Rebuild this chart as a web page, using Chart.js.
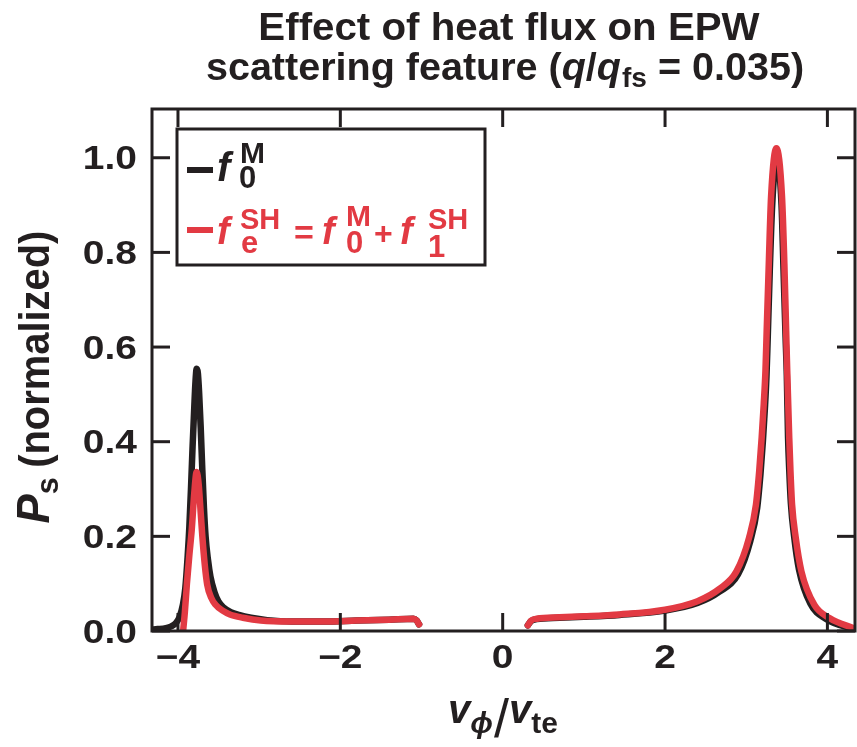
<!DOCTYPE html>
<html>
<head>
<meta charset="utf-8">
<script src="https://cdn.jsdelivr.net/npm/chart.js@4.4.1/dist/chart.umd.min.js"></script>
<style>
  html, body { margin: 0; padding: 0; background: #fff; }
  canvas { display: block; }
</style>
</head>
<body>
<canvas id="chart" width="857" height="747"></canvas>
<script>
const INK = '#231f20';
const RED = '#e23a43';

// f0M curve, left branch (v_phi/v_te, Ps)
const maxLeftX = [-4.33, -4.25, -4.15, -4.08, -4.02, -3.98, -3.94, -3.91, -3.88, -3.86, -3.84, -3.82, -3.80, -3.785, -3.77, -3.755, -3.74, -3.72, -3.70, -3.68, -3.66, -3.63, -3.60, -3.55, -3.50, -3.44, -3.35, -3.25, -3.10, -2.90, -2.60, -2.20, -1.80, -1.40, -1.10, -1.06, -1.03];
const maxLeftY = [0.003, 0.004, 0.006, 0.010, 0.018, 0.030, 0.055, 0.090, 0.160, 0.220, 0.300, 0.390, 0.470, 0.525, 0.554, 0.545, 0.505, 0.430, 0.340, 0.260, 0.200, 0.150, 0.115, 0.082, 0.062, 0.050, 0.040, 0.034, 0.028, 0.023, 0.020, 0.020, 0.022, 0.024, 0.026, 0.022, 0.014];
// f0M curve, right branch
const maxRightX = [0.31, 0.35, 0.42, 0.70, 1.00, 1.44, 2.00, 2.40, 2.67, 2.90, 3.05, 3.135, 3.175, 3.205, 3.23, 3.25, 3.265, 3.29, 3.32, 3.375, 3.435, 3.46, 3.485, 3.50, 3.515, 3.53, 3.55, 3.59, 3.65, 3.79, 3.98, 4.34];
const maxRightY = [0.012, 0.021, 0.025, 0.028, 0.030, 0.034, 0.043, 0.059, 0.083, 0.120, 0.190, 0.260, 0.330, 0.400, 0.470, 0.540, 0.620, 0.760, 0.900, 1.000, 0.900, 0.760, 0.620, 0.540, 0.410, 0.340, 0.270, 0.200, 0.130, 0.058, 0.026, 0.003];

// fSH curve, left branch
const shLeftX = [-3.935, -3.915, -3.89, -3.86, -3.83, -3.80, -3.77, -3.745, -3.72, -3.70, -3.67, -3.64, -3.59, -3.54, -3.45, -3.36, -3.20, -2.98, -2.60, -2.20, -1.80, -1.40, -1.10, -1.06, -1.03];
const shLeftY = [0.003, 0.040, 0.100, 0.160, 0.215, 0.290, 0.336, 0.310, 0.250, 0.200, 0.140, 0.098, 0.070, 0.056, 0.043, 0.035, 0.028, 0.022, 0.020, 0.020, 0.022, 0.024, 0.026, 0.022, 0.014];
// fSH curve, right branch
const shRightX = [0.31, 0.35, 0.42, 0.70, 1.00, 1.44, 2.00, 2.40, 2.67, 2.88, 3.035, 3.12, 3.16, 3.19, 3.216, 3.237, 3.252, 3.278, 3.306, 3.372, 3.441, 3.47, 3.492, 3.505, 3.53, 3.545, 3.565, 3.61, 3.68, 3.84, 4.03, 4.34];
const shRightY = [0.012, 0.022, 0.026, 0.029, 0.031, 0.035, 0.045, 0.063, 0.089, 0.126, 0.197, 0.267, 0.338, 0.408, 0.480, 0.550, 0.634, 0.776, 0.917, 1.020, 0.917, 0.776, 0.634, 0.550, 0.408, 0.338, 0.267, 0.197, 0.126, 0.055, 0.027, 0.005];

const xTicks = [-4, -2, 0, 2, 4];
const yTicks = [0, 0.2, 0.4, 0.6, 0.8, 1.0];
const xTickLabels = ['\u22124', '\u22122', '0', '2', '4'];
const yTickLabels = ['0.0', '0.2', '0.4', '0.6', '0.8', '1.0'];

function branches(lx, ly, rx, ry) {
  const pts = lx.map((x, i) => ({ x, y: ly[i] }));
  pts.push({ x: -0.4, y: null });
  return pts.concat(rx.map((x, i) => ({ x, y: ry[i] })));
}

const FONT = '"Liberation Sans", Arial, sans-serif';
const bold = (s) => `bold ${s}px ${FONT}`;
const ital = (s) => `italic bold ${s}px ${FONT}`;

// draw a row of text runs; align 'center' or 'left' at (x, y) baseline
function runs(ctx, parts, x, y, opt = {}) {
  ctx.save();
  ctx.translate(x, y);
  if (opt.angle) ctx.rotate(opt.angle);
  ctx.scale(opt.sx || 1, 1);
  ctx.textBaseline = 'alphabetic';
  ctx.textAlign = 'left';
  let total = 0;
  parts.forEach(p => {
    ctx.font = p.font;
    p.w = p.adv !== undefined ? p.adv : ctx.measureText(p.text).width;
    total += p.w + (p.gap || 0);
  });
  let cx = opt.align === 'left' ? 0 : -total / 2;
  parts.forEach(p => {
    ctx.font = p.font;
    ctx.fillStyle = p.color || opt.color || INK;
    ctx.fillText(p.text, cx, p.dy || 0);
    cx += p.w + (p.gap || 0);
  });
  ctx.restore();
}

const decorations = {
  id: 'decorations',
  afterDatasetsDraw(chart) {
    const { ctx, chartArea: a, scales: { x, y } } = chart;
    ctx.save();
    ctx.strokeStyle = INK;
    ctx.lineWidth = 3;
    ctx.lineCap = 'butt';
    const seg = (x1, y1, x2, y2) => { ctx.beginPath(); ctx.moveTo(x1, y1); ctx.lineTo(x2, y2); ctx.stroke(); };
    xTicks.forEach(v => {
      const px = x.getPixelForValue(v);
      seg(px, a.bottom, px, a.bottom - 18);
      seg(px, a.top, px, a.top + 18);
    });
    yTicks.forEach(v => {
      const py = y.getPixelForValue(v);
      seg(a.left, py, a.left + 18, py);
      seg(a.right, py, a.right - 18, py);
    });
    ctx.strokeRect(a.left, a.top, a.width, a.height);

    // tick labels
    ctx.fillStyle = INK;
    xTicks.forEach((v, i) => {
      runs(ctx, [{ text: xTickLabels[i], font: bold(33) }], x.getPixelForValue(v), 668, { sx: 1.18 });
    });
    yTicks.forEach((v, i) => {
      const py = y.getPixelForValue(v);
      ctx.save();
      ctx.translate(137, py + 11.5);
      ctx.scale(1.18, 1);
      ctx.textAlign = 'right';
      ctx.font = bold(33);
      ctx.fillText(yTickLabels[i], 0, 0);
      ctx.restore();
    });

    // title
    runs(ctx, [{ text: 'Effect of heat flux on EPW', font: bold(38) }], 509, 40, { sx: 1.06 });
    runs(ctx, [
      { text: 'scattering feature (', font: bold(38) },
      { text: 'q', font: ital(38) },
      { text: '/', font: bold(38) },
      { text: 'q', font: ital(38), gap: 1 },
      { text: 'fs', font: bold(27), dy: 7 },
      { text: ' = 0.035)', font: bold(38) }
    ], 505, 80, { sx: 1.04 });

    // axis titles
    runs(ctx, [
      { text: 'v', font: ital(40) },
      { text: '\u03d5', font: ital(30), dy: 10, gap: 1 },
      { text: '/', font: `54px ${FONT}`, dy: 14 },
      { text: 'v', font: ital(40) },
      { text: 'te', font: bold(30), dy: 10 }
    ], 503, 723, { sx: 1.0 });
    runs(ctx, [
      { text: 'P', font: ital(46) },
      { text: 's', font: bold(32), dy: 9, gap: 10 },
      { text: '(normalized)', font: bold(42) }
    ], 49, 377, { angle: -Math.PI / 2, sx: 0.95 });

    // legend
    ctx.fillStyle = '#fff';
    ctx.fillRect(177, 129, 308, 136);
    ctx.strokeRect(177, 129, 308, 136);
    ctx.lineWidth = 6;
    ctx.strokeStyle = INK;
    seg(187, 170, 213, 170);
    ctx.strokeStyle = RED;
    seg(187, 230, 213, 230);
    const t = (s, f, px, py, c) => { ctx.font = f; ctx.fillStyle = c; ctx.textAlign = 'left'; ctx.fillText(s, px, py); };
    t('f', ital(40), 217, 181, INK);
    t('M', bold(30), 240, 163, INK);
    t('0', bold(31), 239, 188, INK);
    t('f', ital(38), 217, 244, RED);
    t('SH', bold(29), 240, 229, RED);
    t('e', bold(31), 241, 253, RED);
    t('=', bold(34), 294, 244, RED);
    t('f', ital(38), 322, 244, RED);
    t('M', bold(30), 346, 226, RED);
    t('0', bold(31), 346, 253, RED);
    t('+', bold(32), 374, 244, RED);
    t('f', ital(38), 400, 244, RED);
    t('SH', bold(29), 428, 229, RED);
    t('1', bold(31), 428, 257, RED);
    ctx.restore();
  }
};

new Chart(document.getElementById('chart'), {
  type: 'line',
  data: {
    datasets: [
      {
        label: 'fSH',
        data: branches(shLeftX, shLeftY, shRightX, shRightY),
        borderColor: RED,
        borderWidth: 6.5,
        borderCapStyle: 'round',
        borderJoinStyle: 'round',
        cubicInterpolationMode: 'monotone',
        pointRadius: 0,
        spanGaps: false,
      },
      {
        label: 'f0M',
        data: branches(maxLeftX, maxLeftY, maxRightX, maxRightY),
        borderColor: INK,
        borderWidth: 6.5,
        borderCapStyle: 'round',
        borderJoinStyle: 'round',
        cubicInterpolationMode: 'monotone',
        pointRadius: 0,
        spanGaps: false,
      },
    ],
  },
  options: {
    responsive: false,
    animation: false,
    devicePixelRatio: 1,
    layout: { padding: { left: 152, right: 2, top: 109, bottom: 116 } },
    plugins: { legend: { display: false }, title: { display: false }, tooltip: { enabled: false } },
    scales: {
      x: { type: 'linear', min: -4.32, max: 4.34, display: false },
      y: { type: 'linear', min: 0, max: 1.103, display: false },
    },
  },
  plugins: [decorations],
});
</script>
</body>
</html>
